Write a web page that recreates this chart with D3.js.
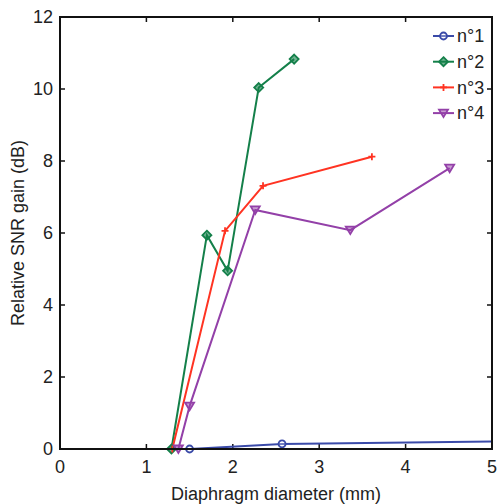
<!DOCTYPE html>
<html><head><meta charset="utf-8">
<script src="https://cdn.jsdelivr.net/npm/d3@7"></script>
<style>body{margin:0;background:#fff}svg{display:block}text{font-family:"Liberation Sans",Arial,sans-serif}</style>
</head><body><svg id="c" width="497" height="504"></svg>
<script>
const seriesNames = ["n°1","n°2","n°3","n°4"];
const seriesColors = ["#3a4aa8","#14804a","#ff3322","#9340a8"];
const seriesMarkers = ["circle","diamond","plus","triangle"];
const s1 = [[1.50,0.00],[2.57,0.14],[5.30,0.22]];
const s2 = [[1.29,0.00],[1.70,5.94],[1.94,4.95],[2.30,10.04],[2.71,10.83]];
const s3 = [[1.30,0.00],[1.91,6.06],[2.35,7.31],[3.61,8.12]];
const s4 = [[1.37,0.00],[1.50,1.19],[2.26,6.64],[3.36,6.08],[4.51,7.80]];
const xTicks = [0,1,2,3,4,5];
const yTicks = [0,2,4,6,8,10,12];
const xLabel = "Diaphragm diameter (mm)";
const yLabel = "Relative SNR gain (dB)";
const allSeries = [s1,s2,s3,s4];

const svg = d3.select("#c");
const L=60,R=492,T=17,B=449;
const x = d3.scaleLinear().domain([0,5]).range([L,R]);
const y = d3.scaleLinear().domain([0,12]).range([B,T]);
const fs = 18;

svg.append("defs").append("clipPath").attr("id","clip").append("rect")
  .attr("x",L).attr("y",T-10).attr("width",R-L).attr("height",B-T+20);

const tl = 5;
const g = svg.append("g");
// ticks inward on all sides
xTicks.forEach(t=>{
  g.append("line").attr("x1",x(t)).attr("x2",x(t)).attr("y1",B).attr("y2",B-tl).attr("stroke","#111").attr("stroke-width",1.5);
  g.append("line").attr("x1",x(t)).attr("x2",x(t)).attr("y1",T).attr("y2",T+tl).attr("stroke","#111").attr("stroke-width",1.5);
  g.append("text").attr("x",x(t)).attr("y",B+24).attr("text-anchor","middle").attr("font-size",fs).attr("fill","#222").text(t);
});
yTicks.forEach(t=>{
  g.append("line").attr("x1",L).attr("x2",L+tl).attr("y1",y(t)).attr("y2",y(t)).attr("stroke","#111").attr("stroke-width",1.5);
  g.append("line").attr("x1",R).attr("x2",R-tl).attr("y1",y(t)).attr("y2",y(t)).attr("stroke","#111").attr("stroke-width",1.5);
  g.append("text").attr("x",L-7).attr("y",y(t)).attr("dy","0.35em").attr("text-anchor","end").attr("font-size",fs).attr("fill","#222").text(t);
});
g.append("text").attr("x",(L+R)/2).attr("y",500).attr("text-anchor","middle").attr("font-size",fs).attr("fill","#222").text(xLabel);
g.append("text").attr("transform",`translate(24,${(T+B)/2}) rotate(-90)`).attr("text-anchor","middle").attr("font-size",fs).attr("fill","#222").text(yLabel);

function marker(sel, type, color){
  if(type==="circle") sel.append("circle").attr("r",3.5).attr("fill","#fff").attr("fill-opacity",0.3).attr("stroke",color).attr("stroke-width",1.8);
  else if(type==="diamond") sel.append("path").attr("d","M0,-4.5L4.5,0L0,4.5L-4.5,0Z").attr("fill",color).attr("fill-opacity",0.6).attr("stroke",color).attr("stroke-width",1.8);
  else if(type==="plus") sel.append("path").attr("d","M-3.5,0H3.5M0,-3.5V3.5").attr("fill","none").attr("stroke",color).attr("stroke-width",1.8);
  else sel.append("path").attr("d","M-4.5,-3.5L4.5,-3.5L0,4Z").attr("fill",color).attr("fill-opacity",0.5).attr("stroke",color).attr("stroke-width",1.8);
}

const plot = svg.append("g").attr("clip-path","url(#clip)");
const line = d3.line().x(d=>x(d[0])).y(d=>y(d[1]));
allSeries.forEach((s,i)=>{
  plot.append("path").datum(s).attr("d",line).attr("fill","none").attr("stroke",seriesColors[i]).attr("stroke-width",2);
});
allSeries.forEach((s,i)=>{
  s.filter(d=>d[0]<=5).forEach(d=>{
    marker(plot.append("g").attr("transform",`translate(${x(d[0])},${y(d[1])})`), seriesMarkers[i], seriesColors[i]);
  });
});

// frame
svg.append("rect").attr("x",L).attr("y",T).attr("width",R-L).attr("height",B-T).attr("fill","none").attr("stroke","#111").attr("stroke-width",2);

// legend
const lg = svg.append("g");
seriesNames.forEach((n,i)=>{
  const yy = 36 + i*25.7;
  lg.append("line").attr("x1",433).attr("x2",454).attr("y1",yy).attr("y2",yy).attr("stroke",seriesColors[i]).attr("stroke-width",2);
  marker(lg.append("g").attr("transform",`translate(443.5,${yy})`), seriesMarkers[i], seriesColors[i]);
  lg.append("text").attr("x",457).attr("y",yy).attr("dy","0.35em").attr("font-size",fs).attr("fill","#222").text(n);
});
</script></body></html>
